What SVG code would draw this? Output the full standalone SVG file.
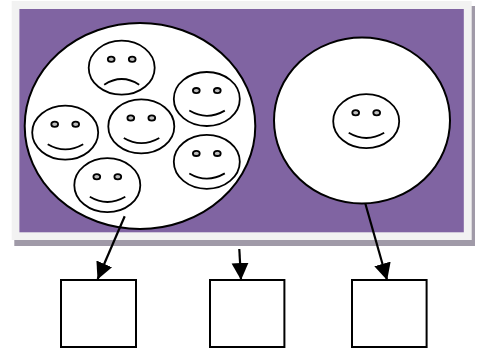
<svg xmlns="http://www.w3.org/2000/svg" xmlns:xlink="http://www.w3.org/1999/xlink" width="480" height="348" viewBox="0 0 480 348">
<style>
.big{fill:#fff;stroke:#000;stroke-width:2}
.head{fill:#fff;stroke:#000;stroke-width:1.8}
.eye{fill:#bdbdbd;stroke:#000;stroke-width:1.8}
.mouth{fill:none;stroke:#000;stroke-width:1.8}
.box{fill:#fff;stroke:#000;stroke-width:2}
.conn{fill:none;stroke:#000;stroke-width:2.2;marker-end:url(#arrow)}
</style>
<defs>
<marker id="arrow" markerUnits="userSpaceOnUse" markerWidth="20" markerHeight="18" refX="16.5" refY="8.5" orient="auto">
<path d="M0 0L17 8.5L0 17Z" fill="#000"/>
</marker>
<g id="happy">
<ellipse class="head" rx="33" ry="27"/>
<ellipse class="eye" cx="-10.5" cy="-8.4" rx="3.4" ry="2.6"/>
<ellipse class="eye" cx="10.5" cy="-8.4" rx="3.4" ry="2.6"/>
<path class="mouth" d="M-17.5 11.6Q0 22 18 11.6"/>
</g>
<g id="sad">
<ellipse class="head" rx="33" ry="27"/>
<ellipse class="eye" cx="-10.5" cy="-8.4" rx="3.4" ry="2.6"/>
<ellipse class="eye" cx="10.5" cy="-8.4" rx="3.4" ry="2.6"/>
<path class="mouth" d="M-17.5 17Q0 5.6 17.5 17"/>
</g>
</defs>
<g id="panel">
<rect x="14.3" y="6" width="460.7" height="240" fill="#a09aa8"/>
<rect x="11.7" y="1" width="460" height="239" fill="#f2f2f2"/>
<rect x="19.4" y="9" width="444.4" height="223.3" fill="#8064a2"/>
</g>
<g id="group-left">
<ellipse class="big" cx="140" cy="126" rx="115.3" ry="103"/>
</g>
<g id="group-right">
<ellipse class="big" cx="362" cy="120.5" rx="88" ry="83"/>
</g>
<use id="face-sad" xlink:href="#sad" href="#sad" x="121.7" y="67.7"/>
<use id="face-1" xlink:href="#happy" href="#happy" x="206.8" y="99"/>
<use id="face-2" xlink:href="#happy" href="#happy" x="65.2" y="132.6"/>
<use id="face-3" xlink:href="#happy" href="#happy" x="141.3" y="126.4"/>
<use id="face-4" xlink:href="#happy" href="#happy" x="206.8" y="161.8"/>
<use id="face-5" xlink:href="#happy" href="#happy" x="107.3" y="185.2"/>
<use id="face-6" xlink:href="#happy" href="#happy" x="366.2" y="121.2"/>
<g id="box-1"><rect class="box" x="61" y="280" width="75" height="67"/></g>
<g id="box-2"><rect class="box" x="210" y="280" width="74.4" height="67"/></g>
<g id="box-3"><rect class="box" x="352" y="280" width="74.6" height="67"/></g>
<g id="connectors">
<path class="conn" d="M124.7 216.3L97.7 279"/>
<path class="conn" d="M239.3 249L241 279.5"/>
<path class="conn" d="M365.3 203.5L387 279.8"/>
</g>
</svg>
